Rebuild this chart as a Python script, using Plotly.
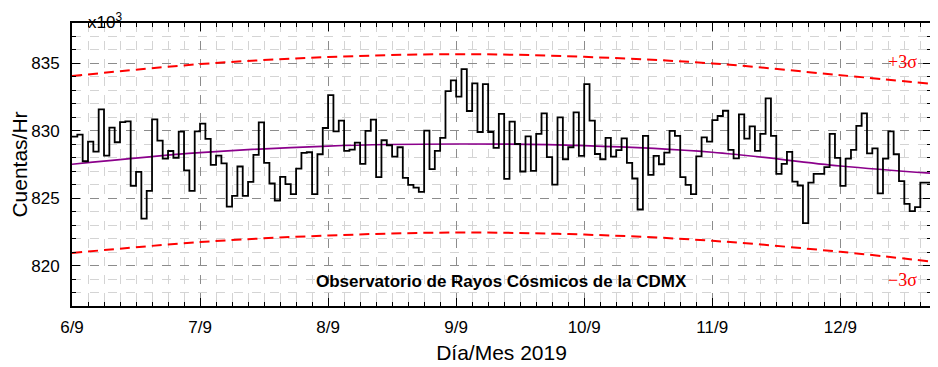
import plotly.graph_objects as go
import pandas as pd

# Hourly counts (x10^3), starting 2019-09-06 00:00
counts = [
    829.57, 829.72, 827.74, 829.2, 828.46, 831.59, 828.16, 830.23, 829.15, 830.65, 830.70, 825.91,
    826.95, 823.49, 825.54, 830.85, 829.27, 827.94, 828.5, 828.0, 829.94, 827.07, 825.54, 829.96,
    830.53, 829.4, 827.47,
    828.16, 827.59, 824.38, 825.17, 827.35, 825.17, 826.21, 828.21, 830.63, 827.62, 826.09, 824.83,
    826.58, 826.04, 825.30, 827.2, 828.36, 828.41, 825.3, 828.26, 830.21, 832.65, 829.96, 830.75,
    828.51, 828.6, 829.12, 827.54, 829.99, 830.83, 826.56, 829.3, 828.93, 828.09, 828.78, 826.51,
    825.99, 825.79, 825.47, 830.01, 827.15, 828.51, 829.47, 832.95, 833.74, 832.53, 834.58, 831.47,
    833.52, 829.91, 833.47, 829.91, 828.73, 831.25, 826.43, 830.68, 829.02, 826.98, 829.59, 827.02,
    829.77, 831.3, 828.04, 826.01, 831.0, 827.89, 828.78, 831.37, 828.14, 833.47, 830.75, 828.28,
    827.89, 829.47, 828.09, 828.56, 829.44, 827.62, 826.46, 824.16, 829.62, 826.73, 828.14, 827.52,
    828.38, 829.99, 829.62, 826.56, 825.99, 825.3, 828.11, 829.52, 829.2, 830.8, 831.1, 831.49,
    828.58, 827.96, 831.22, 829.42, 830.33, 828.51, 829.77, 832.41, 829.62, 826.8, 827.54, 828.43,
    826.23, 825.94, 823.15, 826.16, 826.8, 826.8, 827.3, 829.77, 827.99, 825.91, 827.94, 828.58,
    830.36, 831.3, 828.33, 828.7, 825.35, 827.94, 829.96, 828.26, 826.26, 824.58, 824.04, 824.33,
    826.16, 826.16,
]
start = "2019-09-06 00:00"
end = "2019-09-12 17:00"

# Fit curve and +/-3 sigma bands, sampled daily (plus end)
band_times = ["2019-09-06 00:00", "2019-09-07 00:00", "2019-09-08 00:00", "2019-09-09 00:00",
              "2019-09-10 00:00", "2019-09-11 00:00", "2019-09-12 00:00", "2019-09-12 17:00"]
fit = [827.52, 828.38, 828.87, 829.02, 828.90, 828.41, 827.39, 826.85]
upper = [834.06, 834.95, 835.47, 835.69, 835.49, 835.00, 834.13, 833.49]
lower = [820.93, 821.74, 822.23, 822.45, 822.30, 821.84, 821.02, 820.30]

xdates = pd.date_range(start, periods=len(counts) + 1, freq="h")
ystep = counts + [counts[-1]]

FONT = "Arial, Liberation Sans, sans-serif"

fig = go.Figure()
fig.add_trace(go.Scatter(x=band_times, y=upper, mode="lines", line=dict(color="#ff0000", width=2, dash="10px,6px", shape="spline"), hoverinfo="skip"))
fig.add_trace(go.Scatter(x=band_times, y=lower, mode="lines", line=dict(color="#ff0000", width=2, dash="10px,6px", shape="spline"), hoverinfo="skip"))
fig.add_trace(go.Scatter(x=band_times, y=fit, mode="lines", line=dict(color="#8b008b", width=1.7, shape="spline")))
fig.add_trace(go.Scatter(x=xdates, y=ystep, mode="lines", line=dict(color="black", width=1.8, shape="hv")))

# page body has an 8px default margin, so the figure is sized/offset to compensate
fig.update_layout(
    width=930, height=359,
    margin=dict(l=64, r=7, t=15, b=61),
    paper_bgcolor="white", plot_bgcolor="white",
    showlegend=False,
    font=dict(family=FONT, size=17, color="black"),
)
fig.update_xaxes(
    type="date", range=[start, end], automargin=False,
    dtick=86400000, tick0="2019-09-06", tickformat="%-d/%-m",
    ticks="inside", ticklen=8, tickwidth=1, tickcolor="black",
    showline=True, linecolor="black", linewidth=2, mirror="ticks",
    showgrid=True, gridcolor="#8c8c8c", griddash="dash", gridwidth=1,
    minor=dict(dtick=3 * 3600 * 1000, ticks="inside", ticklen=4, tickcolor="black",
               showgrid=True, gridcolor="#d4d4d4", griddash="dash", gridwidth=1),
    tickfont=dict(size=17), zeroline=False, ticklabelstandoff=5,
    title=dict(text="Día/Mes 2019", font=dict(size=21), standoff=9),
)
fig.update_yaxes(
    range=[817, 838], tick0=820, dtick=5, automargin=False,
    ticks="inside", ticklen=8, tickwidth=1, tickcolor="black",
    showline=True, linecolor="black", linewidth=2, mirror="ticks",
    showgrid=True, gridcolor="#8c8c8c", griddash="dash", gridwidth=1,
    minor=dict(dtick=1, ticks="inside", ticklen=4, tickcolor="black",
               showgrid=True, gridcolor="#d4d4d4", griddash="dash", gridwidth=1),
    tickfont=dict(size=17), zeroline=False, ticklabelstandoff=7,
    title=dict(text="Cuentas/Hr", font=dict(size=21), standoff=4),
)

fig.add_annotation(text="x10<sup>3</sup>", xref="paper", yref="paper", x=0.016, y=1.0,
                   xanchor="left", yanchor="top", showarrow=False, font=dict(size=17), yshift=15)
fig.add_annotation(text="<b>Observatorio de Rayos Cósmicos de la CDMX</b>", xref="paper", yref="y",
                   x=0.5, y=818.8, showarrow=False, font=dict(size=17, family=FONT))
fig.add_annotation(text="+3σ", xref="paper", yref="y", x=0.986, y=835.1, xanchor="right",
                   showarrow=False, font=dict(size=18, color="#ff0000", family="Liberation Serif, serif"))
fig.add_annotation(text="−3σ", xref="paper", yref="y", x=0.986, y=818.9, xanchor="right",
                   showarrow=False, font=dict(size=18, color="#ff0000", family="Liberation Serif, serif"))

fig.write_html("out.html")
